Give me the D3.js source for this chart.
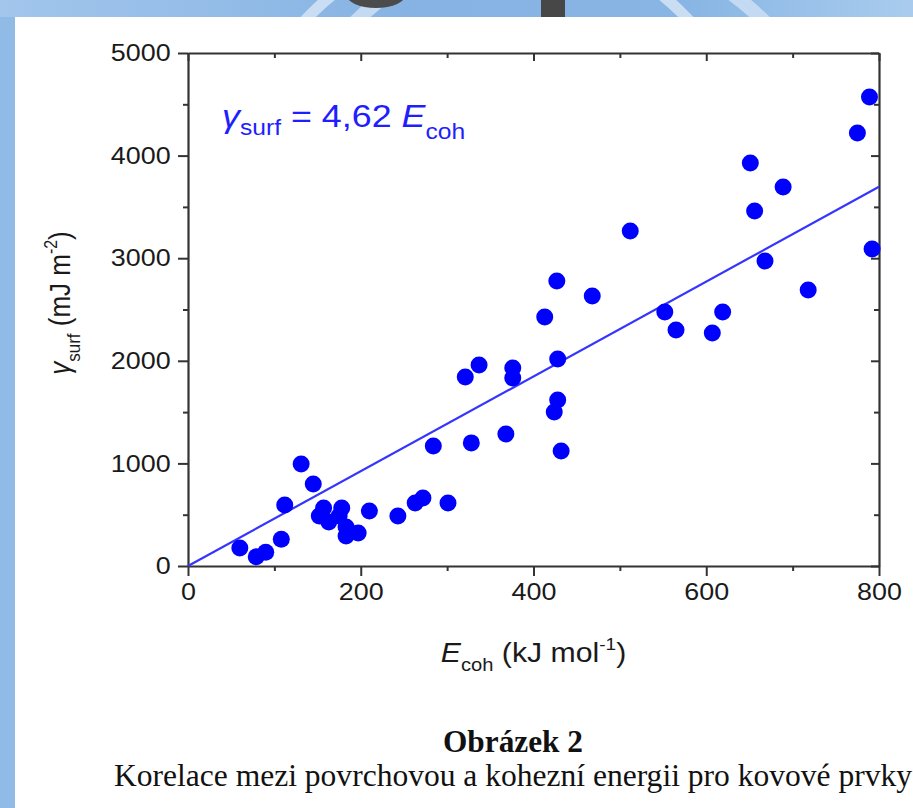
<!DOCTYPE html>
<html>
<head>
<meta charset="utf-8">
<script src="https://cdn.jsdelivr.net/npm/d3@7"></script>
<style>
  html, body { margin: 0; padding: 0; background: #ffffff; }
  svg { display: block; }
</style>
</head>
<body>
<svg id="chart" width="913" height="808"></svg>
<script>
// Cohesive energy of metallic elements (kJ/mol) and their surface energy (mJ/m^2)
const cohesiveEnergy = [
  60, 79, 90, 108, 112, 131, 145, 157, 152, 163,
  178, 175, 183, 183, 197, 210, 243, 263, 272, 301,
  284, 328, 368, 432, 424, 428, 428, 321, 337, 376,
  376, 413, 427, 468, 512, 552, 565, 607, 619, 651,
  656, 668, 689, 718, 775, 789, 792
];
const surfaceEnergy = [
  175, 90, 135, 260, 595, 995, 800, 565, 487, 429,
  565, 487, 380, 292, 322, 536, 487, 614, 663, 614,
  1170, 1200, 1286, 1121, 1501, 1618, 2017, 1842, 1959, 1930,
  1832, 2427, 2778, 2632, 3265, 2476, 2300, 2271, 2476, 3928,
  3460, 2973, 3694, 2690, 4220, 4571, 3090
];
// Fitted proportionality: gamma_surf = 4.62 * E_coh
const fitSlope = 4.62;
const fitRange = [0, 800];

const xTickValues = [0, 200, 400, 600, 800];
const xMinorTicks = [100, 300, 500, 700];
const yTickValues = [0, 1000, 2000, 3000, 4000, 5000];
const yMinorTicks = [500, 1500, 2500, 3500, 4500];

const captionTitle = "Obrázek 2";
const captionText = "Korelace mezi povrchovou a kohezní energii pro kovové prvky";

const W = 913, H = 808;
const plot = { left: 188, right: 879, top: 53, bottom: 566 };
const SX = 1.12;              // horizontal text stretch
const axisColor = "#333333";
const markBlue = "#0000ff";
const sansFont = "'Liberation Sans', Arial, sans-serif";
const serifFont = "'Liberation Serif', 'Times New Roman', Times, serif";

const svg = d3.select("#chart");

// ---- page background: blue frame with white sheet ----
const defs = svg.append("defs");
const grad = defs.append("linearGradient").attr("id", "stripGrad")
  .attr("x1", "0").attr("x2", "1").attr("y1", "0").attr("y2", "0");
grad.append("stop").attr("offset", "0").attr("stop-color", "#a2c6ec");
grad.append("stop").attr("offset", "0.45").attr("stop-color", "#86b3e3");
grad.append("stop").attr("offset", "0.75").attr("stop-color", "#88b5e4");
grad.append("stop").attr("offset", "1").attr("stop-color", "#a9ccee");
defs.append("clipPath").attr("id", "stripClip")
  .append("rect").attr("x", 0).attr("y", 0).attr("width", W).attr("height", 17);

svg.append("rect").attr("x", 0).attr("y", 0).attr("width", W).attr("height", H)
  .attr("fill", "url(#stripGrad)");
const strip = svg.append("g").attr("clip-path", "url(#stripClip)");
strip.append("circle").attr("cx", 497).attr("cy", 200).attr("r", 263)
  .attr("fill", "none").attr("stroke", "#c9def3").attr("stroke-width", 11);
strip.append("circle").attr("cx", 560).attr("cy", 230).attr("r", 292)
  .attr("fill", "none").attr("stroke", "#c3daf2").attr("stroke-width", 14);
strip.append("ellipse").attr("cx", 376).attr("cy", -6).attr("rx", 30).attr("ry", 14)
  .attr("fill", "#4b4b4b");
strip.append("rect").attr("x", 541).attr("y", 0).attr("width", 24).attr("height", 17)
  .attr("fill", "#474747");
svg.append("rect").attr("x", 0).attr("y", 17).attr("width", 15).attr("height", H - 17)
  .attr("fill", "#90bbe7");
svg.append("rect").attr("x", 15).attr("y", 17).attr("width", W - 15).attr("height", H - 17)
  .attr("fill", "#ffffff");

// ---- scales ----
const x = d3.scaleLinear().domain([0, 800]).range([plot.left, plot.right]);
const y = d3.scaleLinear().domain([0, 5000]).range([plot.bottom, plot.top]);
const plain = d3.format("d");

function styleAxis(g, labels) {
  g.select(".domain").attr("stroke", axisColor).attr("stroke-width", 2.2);
  g.selectAll(".tick line").attr("stroke", axisColor).attr("stroke-width", 2);
  if (labels) {
    g.selectAll(".tick text")
      .attr("fill", "#1a1a1a")
      .style("font-family", sansFont)
      .style("font-size", "24px")
      .attr("transform", `scale(${SX},1)`);
  } else {
    g.selectAll(".tick text").remove();
  }
}

// bottom axis (outward ticks)
const gBottom = svg.append("g").attr("transform", `translate(0,${plot.bottom})`)
  .call(d3.axisBottom(x).tickValues(xTickValues).tickFormat(plain)
    .tickSize(10).tickSizeOuter(0).tickPadding(7));
styleAxis(gBottom, true);
const gBottomMinor = svg.append("g").attr("transform", `translate(0,${plot.bottom})`)
  .call(d3.axisBottom(x).tickValues(xMinorTicks).tickSize(5).tickSizeOuter(0));
styleAxis(gBottomMinor, false);
gBottomMinor.select(".domain").remove();

// left axis (outward ticks)
const gLeft = svg.append("g").attr("transform", `translate(${plot.left},0)`)
  .call(d3.axisLeft(y).tickValues(yTickValues).tickFormat(plain)
    .tickSize(10).tickSizeOuter(0).tickPadding(5.5));
styleAxis(gLeft, true);
const gLeftMinor = svg.append("g").attr("transform", `translate(${plot.left},0)`)
  .call(d3.axisLeft(y).tickValues(yMinorTicks).tickSize(5).tickSizeOuter(0));
styleAxis(gLeftMinor, false);
gLeftMinor.select(".domain").remove();

// top mirror axis (inward ticks)
const gTop = svg.append("g").attr("transform", `translate(0,${plot.top})`)
  .call(d3.axisTop(x).tickValues(xTickValues).tickSize(-8).tickSizeOuter(0));
styleAxis(gTop, false);
const gTopMinor = svg.append("g").attr("transform", `translate(0,${plot.top})`)
  .call(d3.axisTop(x).tickValues(xMinorTicks).tickSize(-5).tickSizeOuter(0));
styleAxis(gTopMinor, false);
gTopMinor.select(".domain").remove();

// right mirror axis (inward ticks)
const gRight = svg.append("g").attr("transform", `translate(${plot.right},0)`)
  .call(d3.axisRight(y).tickValues(yTickValues).tickSize(-8).tickSizeOuter(0));
styleAxis(gRight, false);
const gRightMinor = svg.append("g").attr("transform", `translate(${plot.right},0)`)
  .call(d3.axisRight(y).tickValues(yMinorTicks).tickSize(-5).tickSizeOuter(0));
styleAxis(gRightMinor, false);
gRightMinor.select(".domain").remove();

// ---- fitted line ----
const fitLine = d3.line().x(d => x(d)).y(d => y(fitSlope * d));
svg.append("path").datum(fitRange)
  .attr("d", fitLine)
  .attr("fill", "none")
  .attr("stroke", "#3535ff")
  .attr("stroke-width", 2.2);

// ---- data points ----
const points = cohesiveEnergy.map((e, i) => ({ e, g: surfaceEnergy[i] }));
svg.append("g").selectAll("circle").data(points).join("circle")
  .attr("cx", d => x(d.e))
  .attr("cy", d => y(d.g))
  .attr("r", 8.5)
  .attr("fill", markBlue);

// ---- equation annotation ----
const eq = svg.append("text")
  .attr("transform", `translate(222,127) scale(${SX},1)`)
  .attr("fill", "#1e1eff")
  .style("font-family", sansFont)
  .style("font-size", "32px");
eq.append("tspan").style("font-style", "italic").text("γ");
eq.append("tspan").attr("dy", 8).style("font-size", "22px").text("surf");
eq.append("tspan").attr("dy", -8).text(" = " + String(fitSlope).replace(".", ",") + " ");
eq.append("tspan").style("font-style", "italic").text("E");
eq.append("tspan").attr("dy", 12).style("font-size", "22px").text("coh");

// ---- x axis title ----
const xTitle = svg.append("text")
  .attr("transform", `translate(${(plot.left + plot.right) / 2},662) scale(${SX},1)`)
  .attr("text-anchor", "middle")
  .attr("fill", "#1a1a1a")
  .style("font-family", sansFont)
  .style("font-size", "27px");
xTitle.append("tspan").style("font-style", "italic").text("E");
xTitle.append("tspan").attr("dy", 9).style("font-size", "18px").text("coh");
xTitle.append("tspan").attr("dy", -9).text(" (kJ mol");
xTitle.append("tspan").attr("dy", -12).style("font-size", "17px").text("-1");
xTitle.append("tspan").attr("dy", 12).text(")");

// ---- y axis title ----
const yTitle = svg.append("text")
  .attr("transform", `translate(70,303) rotate(-90) scale(1,${SX})`)
  .attr("text-anchor", "middle")
  .attr("fill", "#1a1a1a")
  .style("font-family", sansFont)
  .style("font-size", "26px");
yTitle.append("tspan").style("font-style", "italic").text("γ");
yTitle.append("tspan").attr("dy", 9).style("font-size", "17px").text("surf");
yTitle.append("tspan").attr("dy", -9).text(" (mJ m");
yTitle.append("tspan").attr("dy", -12).style("font-size", "16px").text("-2");
yTitle.append("tspan").attr("dy", 12).text(")");

// ---- caption ----
svg.append("text")
  .attr("x", 513).attr("y", 752)
  .attr("text-anchor", "middle")
  .attr("textLength", 140).attr("lengthAdjust", "spacingAndGlyphs")
  .attr("fill", "#111")
  .style("font-family", serifFont)
  .style("font-weight", "bold")
  .style("font-size", "31px")
  .text(captionTitle);
svg.append("text")
  .attr("x", 114).attr("y", 786)
  .attr("textLength", 798).attr("lengthAdjust", "spacingAndGlyphs")
  .attr("fill", "#111")
  .style("font-family", serifFont)
  .style("font-size", "31px")
  .text(captionText);
</script>
</body>
</html>
